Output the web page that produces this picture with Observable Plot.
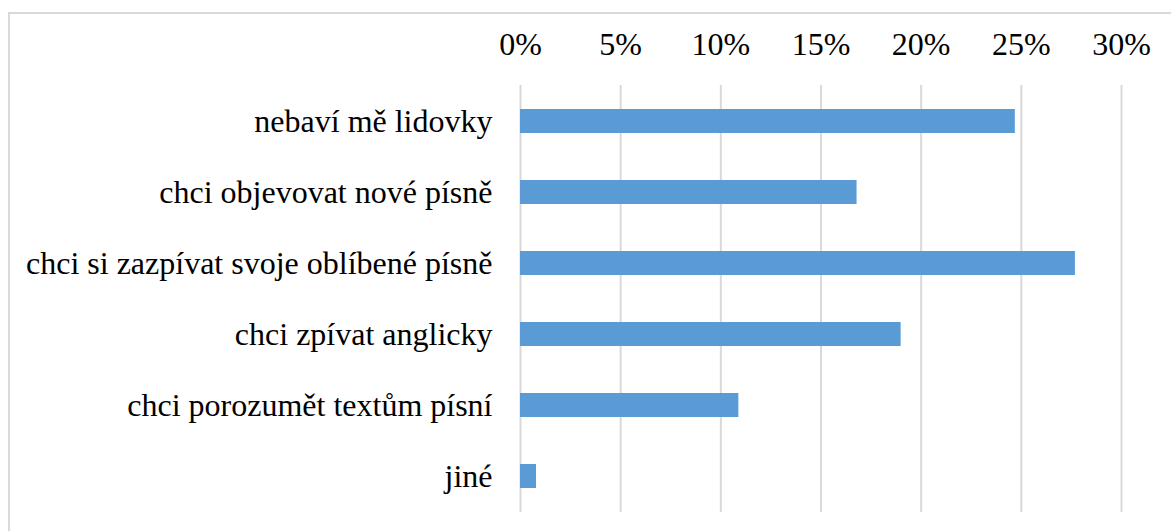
<!DOCTYPE html>
<html>
<head>
<meta charset="utf-8">
<script src="https://cdn.jsdelivr.net/npm/d3@7"></script>
<script src="https://cdn.jsdelivr.net/npm/@observablehq/plot@0.6"></script>
<style>
  html, body { margin: 0; padding: 0; background: #fff; overflow: hidden; }
  #wrap { position: relative; width: 1171px; height: 531px; }
  #frame { position: absolute; left: 8px; top: 12px; width: 1300px; height: 700px; border: 2px solid #d9d9d9; box-sizing: border-box; pointer-events: none; }
</style>
</head>
<body>
<div id="wrap"><div id="frame"></div></div>
<script>
const categories = [
  "nebaví mě lidovky",
  "chci objevovat nové písně",
  "chci si zazpívat svoje oblíbené písně",
  "chci zpívat anglicky",
  "chci porozumět textům písní",
  "jiné"
];
const values = [24.7, 16.8, 27.7, 19.0, 10.9, 0.8];
const xTicks = [0, 5, 10, 15, 20, 25, 30];

const data = categories.map((c, i) => ({category: c, value: values[i]}));

const chart = Plot.plot({
  width: 1171,
  height: 531,
  marginLeft: 520,
  marginRight: 50,
  marginTop: 85,
  marginBottom: 19,
  style: {fontFamily: "Liberation Serif", fontSize: "32px", color: "#000", background: "transparent"},
  x: {domain: [0, 30], ticks: xTicks, tickFormat: d => d + "%", axis: "top", tickSize: 0, tickPadding: 31, label: null},
  y: {domain: categories, padding: 0.655, paddingOuter: 0.3275, tickSize: 0, tickPadding: 28, label: null},
  marks: [
    Plot.gridX(xTicks, {stroke: "#d9d9d9", strokeOpacity: 1, strokeWidth: 2}),
    Plot.barX(data, {x: "value", y: "category", fill: "#5b9bd5"})
  ]
});
d3.select(chart).attr("font-family", "Liberation Serif").attr("font-size", 32);
d3.select(chart).selectAll("g").attr("font-family", null).attr("font-size", null);
d3.select(chart).selectAll("text").style("font-family", "Liberation Serif").style("font-size", "32px");
document.getElementById("wrap").prepend(chart);
chart.style.position = "absolute";
chart.style.left = "0";
chart.style.top = "0";
</script>
</body>
</html>
